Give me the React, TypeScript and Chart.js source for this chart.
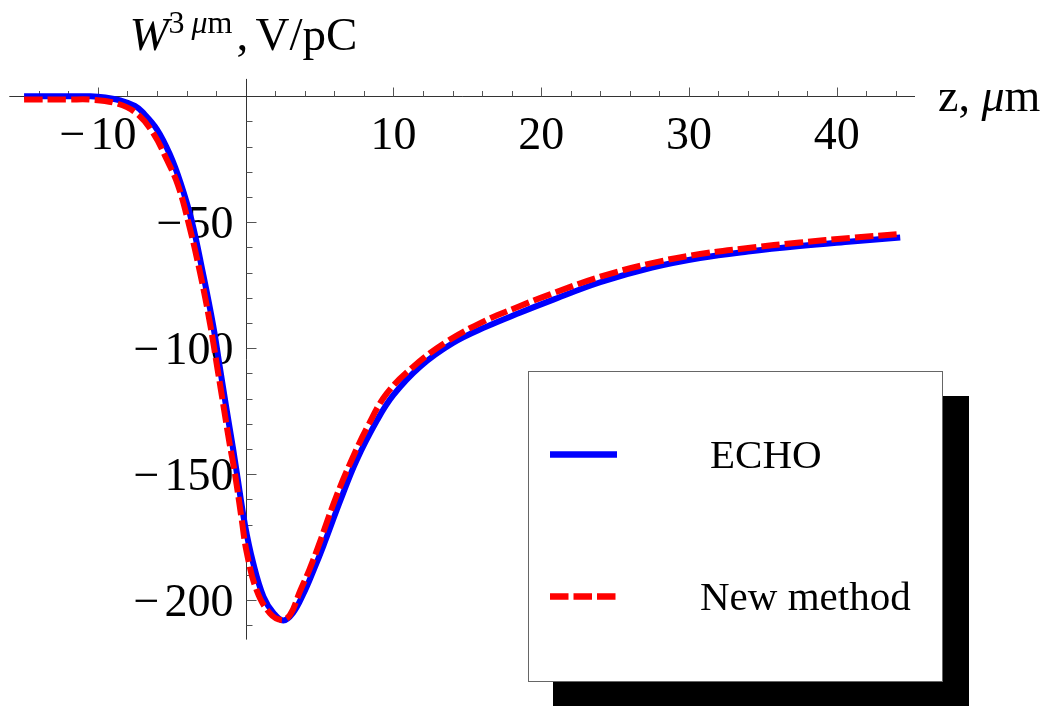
import React, { useEffect, useRef } from "react";
import { Chart, registerables } from "chart.js";

Chart.register(...registerables);

// ---- data ----
const ECHO_Z = [-15, -12, -10.5, -9.5, -8.5, -7.5, -7, -6, -5.1, -4.4, -3.65, -2.9, -2.2, -1.75, -1.3, -0.85, -0.6, -0.05, 0.5, 1.2, 1.9, 2.55, 3.2, 3.9, 4.6, 5.25, 6.4, 7.5, 8.9, 10, 11.8, 14, 16.3, 18.6, 20.6, 24, 27.5, 30.75, 34, 37.5, 41, 44.3];
const ECHO_W = [0, 0, 0, -0.5, -1.6, -3.8, -6.2, -13.2, -23.5, -34.5, -49.5, -70, -91, -107.5, -124, -140, -149.5, -170, -185, -198.5, -205.2, -208, -205, -197.5, -188, -178.5, -160.5, -144.5, -128.5, -118.5, -107.3, -98, -91.4, -85.8, -81.2, -73.8, -68, -64.2, -61.6, -59.4, -57.6, -56];

const NEW_Z = [-15, -12, -10.5, -8.75, -7.4, -6.25, -5.35, -4.6, -3.88, -3.09, -2.42, -1.9, -1.5, -1.1, -0.72, -0.27, 0.07, 0.74, 1.64, 2.44, 3.0, 3.67, 4.3, 4.91, 6.04, 7.17, 8.3, 9.54, 11.34, 13.6, 16.08, 18.45, 20.6, 24, 27.5, 30.75, 34, 37.5, 41, 44.3];
const NEW_W = [-1.3, -1.3, -1.3, -2.8, -6.7, -14.7, -25, -35, -50, -70, -90, -108.5, -123, -137.5, -150, -168, -181, -196, -205.2, -207.8, -205.8, -196.5, -188, -178.7, -160.2, -144.3, -130.5, -118, -107.3, -97.4, -89.4, -83.5, -78.6, -71.6, -66.2, -62.6, -60.2, -58, -56.2, -54.6];

const X_MAJOR_TICKS = [-10, 10, 20, 30, 40];
const X_MINOR_TICKS = [-14, -12, -8, -6, -4, -2, 2, 4, 6, 8, 12, 14, 16, 18, 22, 24, 26, 28, 32, 34, 36, 38, 42, 44];
const Y_MAJOR_TICKS = [-50, -100, -150, -200];
const Y_MINOR_TICKS = [-10, -20, -30, -40, -60, -70, -80, -90, -110, -120, -130, -140, -160, -170, -180, -190, -210];

const SERIES_NAMES = ["ECHO", "New method"];

const X_MIN = -16;
const X_MAX = 45.3;
const Y_MIN = -215.6;
const Y_MAX = 6.9;

const FONT = '"Liberation Serif", "Times New Roman", serif';

function drawNum(ctx: CanvasRenderingContext2D, v: number, x: number, y: number, align: "center" | "right") {
  const digits = String(Math.abs(v));
  ctx.textAlign = "left";
  const dw = ctx.measureText(digits).width;
  const neg = v < 0;
  const mw = neg ? ctx.measureText("\u2212").width : 0;
  const gap = neg ? 5 : 0;
  const total = mw + gap + dw;
  const start = align === "center" ? x - total / 2 : x - total;
  if (neg) ctx.fillText("\u2212", start, y);
  ctx.fillText(digits, start + mw + gap, y);
}

const axesPlugin = {
  id: "mmaAxes",
  beforeDatasetsDraw(chart: any) {
    const ctx: CanvasRenderingContext2D = chart.ctx;
    const xs = chart.scales.x;
    const ys = chart.scales.y;
    const x0 = Math.round(xs.getPixelForValue(0)) + 0.5;
    const y0 = Math.round(ys.getPixelForValue(0)) + 0.5;
    ctx.save();
    ctx.lineWidth = 1;
    ctx.strokeStyle = "#333";
    ctx.beginPath();
    ctx.moveTo(xs.left, y0);
    ctx.lineTo(xs.right, y0);
    ctx.moveTo(x0, ys.top);
    ctx.lineTo(x0, ys.bottom);
    ctx.stroke();

    ctx.strokeStyle = "#555";
    ctx.beginPath();
    for (const v of X_MAJOR_TICKS) {
      const px = Math.round(xs.getPixelForValue(v)) + 0.5;
      ctx.moveTo(px, y0);
      ctx.lineTo(px, y0 - 9);
    }
    for (const v of X_MINOR_TICKS) {
      const px = Math.round(xs.getPixelForValue(v)) + 0.5;
      ctx.moveTo(px, y0);
      ctx.lineTo(px, y0 - 5.5);
    }
    for (const v of Y_MAJOR_TICKS) {
      const py = Math.round(ys.getPixelForValue(v)) + 0.5;
      ctx.moveTo(x0, py);
      ctx.lineTo(x0 + 10, py);
    }
    for (const v of Y_MINOR_TICKS) {
      const py = Math.round(ys.getPixelForValue(v)) + 0.5;
      ctx.moveTo(x0, py);
      ctx.lineTo(x0 + 6, py);
    }
    ctx.stroke();

    ctx.fillStyle = "#000";
    ctx.textBaseline = "alphabetic";
    ctx.font = `46px ${FONT}`;
    for (const v of X_MAJOR_TICKS) {
      drawNum(ctx, v, xs.getPixelForValue(v), y0 + 52.5, "center");
    }
    for (const v of Y_MAJOR_TICKS) {
      drawNum(ctx, v, x0 - 13, ys.getPixelForValue(v) + 15.5, "right");
    }

    // y-axis title: W^{3 μm}, V/pC
    const ty = 50;
    const sy = 33;
    ctx.textAlign = "left";
    ctx.font = `italic 47px ${FONT}`;
    ctx.fillText("W", x0 - 117, ty);
    ctx.font = `32px ${FONT}`;
    ctx.fillText("3", x0 - 78, sy);
    ctx.font = `italic 32px ${FONT}`;
    ctx.fillText("\u03bc", x0 - 55, sy);
    const mux = x0 - 55 + ctx.measureText("\u03bc").width;
    ctx.font = `32px ${FONT}`;
    ctx.fillText("m", mux, sy);
    ctx.font = `47px ${FONT}`;
    ctx.fillText(",", x0 - 10, ty);
    ctx.fillText("V/pC", x0 + 9, ty);

    // x-axis title: z, μm
    let zx = xs.right + 23;
    const zy = y0 + 14.5;
    ctx.font = `46px ${FONT}`;
    ctx.fillText("z, ", zx, zy);
    zx += ctx.measureText("z, ").width;
    ctx.font = `italic 46px ${FONT}`;
    ctx.fillText("\u03bc", zx, zy);
    zx += ctx.measureText("\u03bc").width;
    ctx.font = `46px ${FONT}`;
    ctx.fillText("m", zx, zy);
    ctx.restore();
  },
  afterDraw(chart: any) {
    const ctx: CanvasRenderingContext2D = chart.ctx;
    const bx = 528, by = 371, bw = 414, bh = 310;
    ctx.save();
    ctx.fillStyle = "#000";
    ctx.fillRect(bx + 25, by + 25, bw + 2, bh);
    ctx.fillStyle = "#fff";
    ctx.fillRect(bx, by, bw, bh);
    ctx.strokeStyle = "#666";
    ctx.lineWidth = 1;
    ctx.strokeRect(bx + 0.5, by + 0.5, bw, bh);

    const ds = chart.data.datasets;
    ctx.lineCap = "butt";
    ctx.lineWidth = 6.5;
    ctx.strokeStyle = ds[1].borderColor;
    ctx.setLineDash([]);
    ctx.beginPath();
    ctx.moveTo(550, 454.5);
    ctx.lineTo(617, 454.5);
    ctx.stroke();
    ctx.strokeStyle = ds[0].borderColor;
    ctx.setLineDash([18.5, 5]);
    ctx.beginPath();
    ctx.moveTo(550, 596.5);
    ctx.lineTo(616, 596.5);
    ctx.stroke();
    ctx.setLineDash([]);

    ctx.fillStyle = "#000";
    ctx.font = `41px ${FONT}`;
    ctx.textAlign = "left";
    ctx.textBaseline = "alphabetic";
    ctx.fillText(SERIES_NAMES[0], 710, 468);
    ctx.fillText(SERIES_NAMES[1], 700, 610);
    ctx.restore();
  },
};

export default function App() {
  const ref = useRef<HTMLCanvasElement | null>(null);
  useEffect(() => {
    if (!ref.current) return;
    const chart = new Chart(ref.current, {
      type: "scatter",
      data: {
        datasets: [
          {
            label: SERIES_NAMES[1],
            data: NEW_Z.map((z, i) => ({ x: z, y: NEW_W[i] })),
            showLine: true,
            borderColor: "#ff0000",
            borderWidth: 6,
            borderDash: [18.5, 5],
            borderCapStyle: "butt",
            pointRadius: 0,
            tension: 0.4,
            order: 0,
          },
          {
            label: SERIES_NAMES[0],
            data: ECHO_Z.map((z, i) => ({ x: z, y: ECHO_W[i] })),
            showLine: true,
            borderColor: "#0000ff",
            borderWidth: 6,
            pointRadius: 0,
            tension: 0.4,
            order: 1,
          },
        ],
      } as any,
      options: {
        animation: false,
        responsive: false,
        devicePixelRatio: 1,
        layout: { padding: { left: 9.3, right: 134, top: 78.9, bottom: 66.4 } },
        scales: {
          x: { type: "linear", min: X_MIN, max: X_MAX, display: false },
          y: { type: "linear", min: Y_MIN, max: Y_MAX, display: false },
        },
        plugins: { legend: { display: false }, tooltip: { enabled: false } },
        elements: { line: { clip: false } as any },
      } as any,
      plugins: [axesPlugin],
    });
    return () => chart.destroy();
  }, []);
  return (
    <div style={{ position: "fixed", left: 0, top: 0, width: 1049, height: 706, background: "#fff" }}>
      <canvas ref={ref} width={1049} height={706} style={{ width: 1049, height: 706, display: "block" }} />
    </div>
  );
}
